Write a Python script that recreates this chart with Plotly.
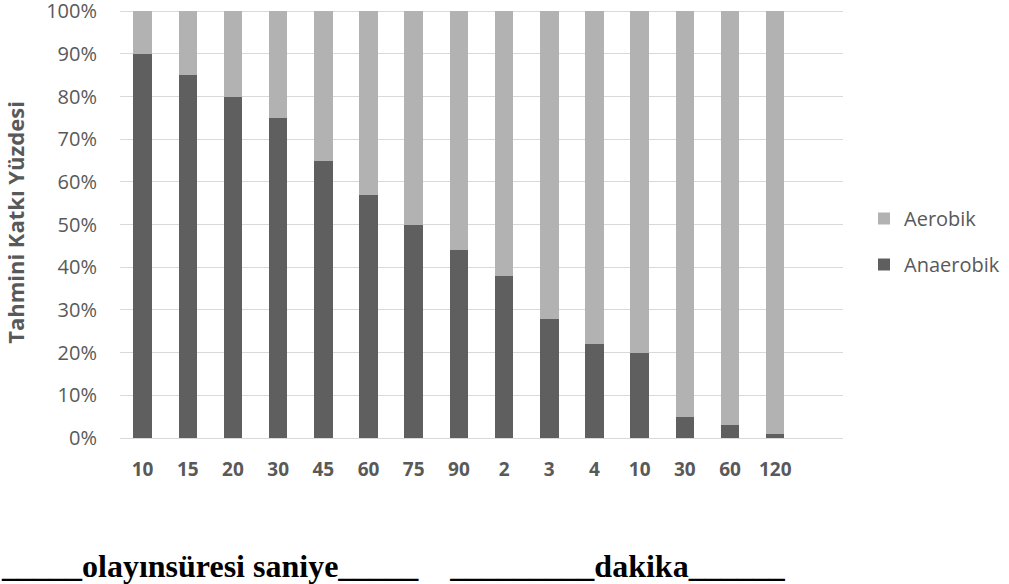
import plotly.graph_objects as go

categories = ["10", "15", "20", "30", "45", "60", "75", "90", "2", "3", "4", "10", "30", "60", "120"]
anaerobik = [90, 85, 80, 75, 65, 57, 50, 44, 38, 28, 22, 20, 5, 3, 1]
aerobik = [10, 15, 20, 25, 35, 43, 50, 56, 62, 72, 78, 80, 95, 97, 99]
y_ticks = [0, 10, 20, 30, 40, 50, 60, 70, 80, 90, 100]
y_tick_labels = ["0%", "10%", "20%", "30%", "40%", "50%", "60%", "70%", "80%", "90%", "100%"]

positions = list(range(len(categories)))

W, H = 1009, 584
L, R, T, B = 120, 1009 - 843, 7, 584 - 438
pw = W - L - R
ph = H - T - B

TXT = "#595959"
FONT = "Open Sans"

fig = go.Figure()
fig.add_trace(go.Bar(x=positions, y=anaerobik, name="Anaerobik",
                     marker=dict(color="#5F5F5F", line=dict(width=0)),
                     legendgroup="a", legendrank=2))
fig.add_trace(go.Bar(x=positions, y=aerobik, name="Aerobik",
                     marker=dict(color="#B2B2B2", line=dict(width=0)),
                     legendgroup="b", legendrank=1))

fig.update_layout(
    width=W, height=H,
    margin=dict(l=L, r=R, t=T, b=B, autoexpand=False),
    barmode="stack",
    bargap=0.59,
    plot_bgcolor="white",
    paper_bgcolor="white",
    font=dict(family=FONT, color=TXT, size=20),
    showlegend=True,
    legend=dict(
        x=(864 - L) / pw, xanchor="left",
        y=1 - (199 - T) / ph, yanchor="top",
        traceorder="grouped",
        tracegroupgap=17,
        font=dict(size=20, color=TXT, family=FONT),
        bgcolor="rgba(0,0,0,0)",
    ),
    xaxis=dict(
        range=[-0.5, 15.5],
        tickmode="array",
        tickvals=positions,
        ticktext=["<b>%s</b>" % c for c in categories],
        tickfont=dict(size=19, color=TXT, family=FONT),
        ticks="",
        showgrid=False,
        showline=False,
        zeroline=False,
        ticklabelstandoff=18,
        fixedrange=True,
    ),
    yaxis=dict(
        range=[0, 101],
        tickmode="array",
        tickvals=y_ticks,
        ticktext=y_tick_labels,
        tickfont=dict(size=20, color=TXT, family=FONT),
        ticks="",
        ticklabeloverflow="allow",
        showgrid=True,
        gridcolor="#D9D9D9",
        gridwidth=1.3,
        zeroline=True,
        zerolinecolor="#D9D9D9",
        zerolinewidth=1.3,
        showline=False,
        ticklabelstandoff=22,
        title=dict(text="<b>Tahmini Katkı Yüzdesi</b>",
                   font=dict(size=22, color=TXT, family=FONT),
                   standoff=20),
        fixedrange=True,
    ),
)

nb = "\u00a0"
bottom_text = "_____olayınsüresi saniye_____" + nb * 4 + "_________dakika______"
fig.add_annotation(
    text="<b>" + bottom_text + "</b>",
    xref="paper", yref="paper",
    x=(0 - L) / pw, xanchor="left",
    y=-(566 - (T + ph)) / ph, yanchor="middle",
    showarrow=False,
    font=dict(family="Liberation Serif", size=32, color="black"),
    borderpad=0,
)

fig.write_html("out.html",
               config={"displayModeBar": False},
               post_script="document.body.style.margin='0';document.body.style.overflow='hidden';")
